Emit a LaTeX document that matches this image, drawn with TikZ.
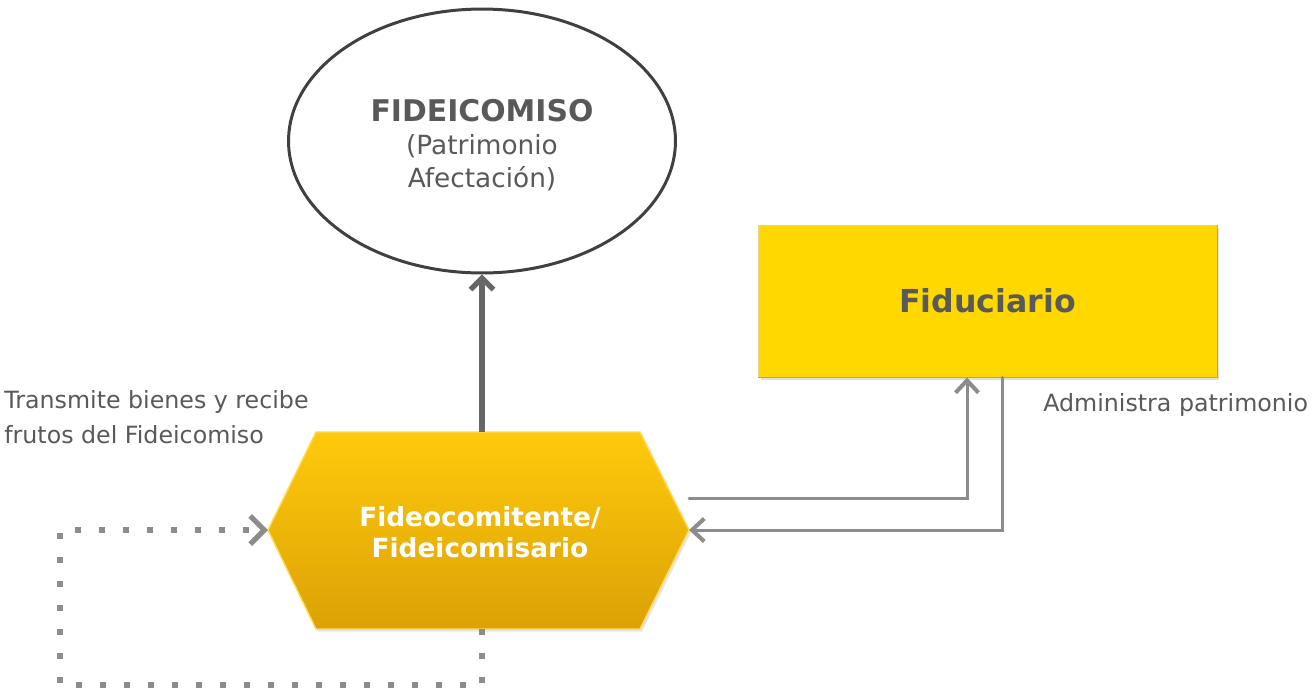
\documentclass[tikz,border=0pt]{standalone}
\usepackage{fontspec}
\setmainfont{DejaVu Sans}
\usetikzlibrary{arrows.meta,shapes.geometric,shadows}
\definecolor{txtgray}{HTML}{595959}
\definecolor{edgegray}{HTML}{404040}
\definecolor{arrgray}{HTML}{8C8C8C}
\definecolor{darkarr}{HTML}{676767}
\definecolor{fidgold}{HTML}{FFD800}
\definecolor{hextop}{HTML}{FFCA0C}
\definecolor{hexbot}{HTML}{DCA105}
\tikzset{
  flecha/.style={draw=arrgray, line width=1.7pt, line cap=round,
    -{Straight Barb[length=7pt,width=13pt,line width=2.3pt]}},
  flechagruesa/.style={draw=darkarr, line width=3.2pt,
    -{Straight Barb[length=6.5pt,width=13pt,line width=3pt]}},
  puntos/.style={draw=arrgray, line width=3.4pt, dash pattern=on 0.12cm off 0.36cm,
    -{Straight Barb[length=8pt,width=16pt,line width=3pt]}},
  etiqueta/.style={text=txtgray, font=\fontsize{13.5}{19.8}\selectfont, inner sep=0pt},
}

\begin{document}
\begin{tikzpicture}[x=0.02cm,y=-0.02cm]
  \useasboundingbox (0,0) rectangle (1312,694);

  \node[ellipse, draw=edgegray, line width=1.7pt, minimum width=7.74cm, minimum height=5.28cm,
    align=center, text=txtgray, font=\fontsize{15}{18.7}\selectfont]
    (fideicomiso) at (482,141) {\rule{0pt}{17pt}{\fontsize{17}{18.7}\selectfont\bfseries FIDEICOMISO}\\(Patrimonio\\Afectación)};

  \node[fill=fidgold, draw=fidgold!80!black, line width=0.5pt, minimum width=9.18cm, minimum height=3.04cm,
    drop shadow={opacity=0.25, shadow xshift=0.05cm, shadow yshift=-0.06cm},
    text=txtgray, font=\fontsize{18}{22}\selectfont\bfseries]
    (fiduciario) at (987.5,301) {Fiduciario};
  \draw[white, opacity=0.5, line width=1.5pt] ([shift={(0.05,-0.05)}]fiduciario.south west) |- ([shift={(-0.05,-0.05)}]fiduciario.north east);

  \coordinate (hl) at (268,530);
  \coordinate (hr) at (689,530);
  \coordinate (ht) at (482,432);
  \coordinate (hb) at (482,629);
  \shade[top color=hextop, bottom color=hexbot, draw=hextop!70!white, line width=0.8pt,
    drop shadow={opacity=0.2, shadow xshift=0.04cm, shadow yshift=-0.05cm}]
    (316,432) -- (640,432) -- (hr) -- (640,629) -- (316,629) -- (hl) -- cycle;
  \node[align=center, text=white, font=\fontsize{15}{17.6}\selectfont\bfseries]
    (fideo) at (480,532) {Fideocomitente/\\Fideicomisario};

  \coordinate (sal) at (689,498);

  \draw[flechagruesa] (ht) -- (fideicomiso.south);
  \draw[flecha] (sal) -| ([xshift=-0.41cm]fiduciario.south);
  \draw[flecha] ([xshift=0.29cm]fiduciario.south) |- (hr);
  \draw[puntos] (hb) |- (60,685) |- (hl);

  \node[etiqueta, anchor=west] (administra) at (1043,405) {Administra patrimonio};
  \node[etiqueta, anchor=west, align=left] (transmite) at (4,417.5) {Transmite bienes y recibe\\frutos del Fideicomiso};
\end{tikzpicture}
\end{document}
